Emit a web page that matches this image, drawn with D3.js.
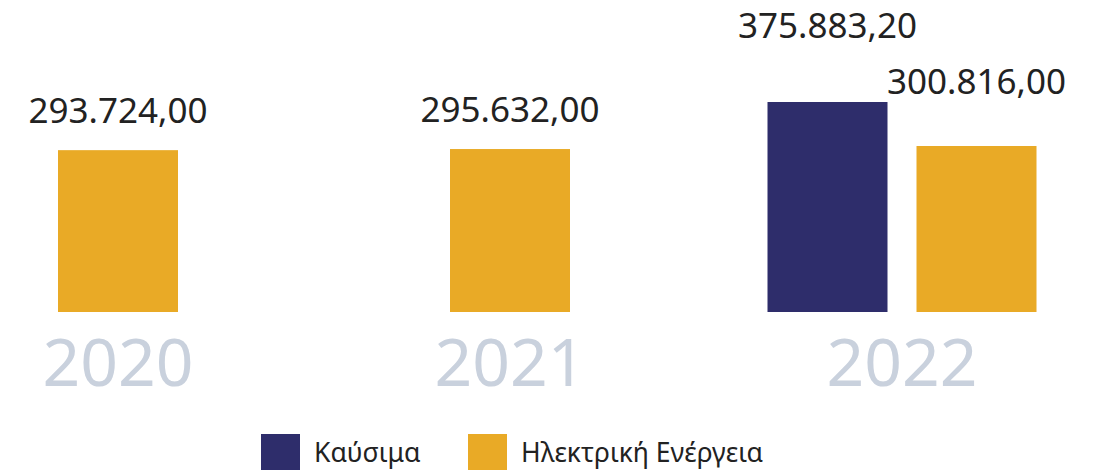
<!DOCTYPE html>
<meta charset="utf-8">
<style>
body { margin: 0; background: #fff; }
text { font-family: "Noto Sans", sans-serif; }
.value { font-size: 35px; fill: #222; }
.year { font-size: 66px; fill: #c9d1dd; }
.legend text { font-size: 26.5px; fill: #222; }
</style>
<body>
<div id="chart"></div>
<script src="https://cdn.jsdelivr.net/npm/d3@7"></script>
<script>
var years = ["2020", "2021", "2022"];
var series = ["Καύσιμα", "Ηλεκτρική Ενέργεια"];
var fuel = [null, null, 375883.20];
var electric = [293724.00, 295632.00, 300816.00];
var colors = ["#2e2d6b", "#e9aa26"];

var width = 1094, height = 470,
    baseline = 312, barTop = 102, barW = 120, barGap = 29;

var svg = d3.select("#chart").append("svg")
    .attr("width", width)
    .attr("height", height);

// group centres
var x0 = d3.scalePoint()
    .domain(years)
    .range([118, 902]);

var y = d3.scaleLinear()
    .domain([17600, d3.max(fuel.concat(electric))])
    .range([baseline, barTop]);

var fmt = function(v) {
  return d3.format(",.2f")(v).replace(/,/g, "#").replace(".", ",").replace(/#/g, ".");
};

// build bars per year, only for values present
var bars = [];
years.forEach(function(yr, i) {
  var vals = [fuel[i], electric[i]];
  var present = [];
  vals.forEach(function(v, s) { if (v != null) present.push({ year: yr, s: s, v: v }); });
  var n = present.length;
  var total = n * barW + (n - 1) * barGap;
  present.forEach(function(d, j) {
    d.x = x0(yr) - total / 2 + j * (barW + barGap);
    d.lift = n > 1 ? [37, 25][j] : 0;
    bars.push(d);
  });
});

svg.selectAll(".bar")
    .data(bars)
  .enter().append("rect")
    .attr("class", "bar")
    .attr("x", function(d) { return d.x; })
    .attr("y", function(d) { return y(d.v); })
    .attr("width", barW)
    .attr("height", function(d) { return baseline - y(d.v); })
    .attr("fill", function(d) { return colors[d.s]; });

svg.selectAll(".value")
    .data(bars)
  .enter().append("text")
    .attr("class", "value")
    .attr("text-anchor", "middle")
    .attr("x", function(d) { return d.x + barW / 2; })
    .attr("y", function(d) { return y(d.v) - 27 - d.lift; })
    .text(function(d) { return fmt(d.v); });

svg.selectAll(".year")
    .data(years)
  .enter().append("text")
    .attr("class", "year")
    .attr("text-anchor", "middle")
    .attr("x", function(d) { return x0(d); })
    .attr("y", 386)
    .text(function(d) { return d; });

// legend
var legend = svg.append("g").attr("class", "legend");
var legX = [261, 468];
series.forEach(function(name, i) {
  legend.append("rect")
      .attr("x", legX[i]).attr("y", 434)
      .attr("width", 39).attr("height", 40)
      .attr("fill", colors[i]);
  legend.append("text")
      .attr("x", legX[i] + 53).attr("y", 462)
      .text(name);
});
</script>
</body>
